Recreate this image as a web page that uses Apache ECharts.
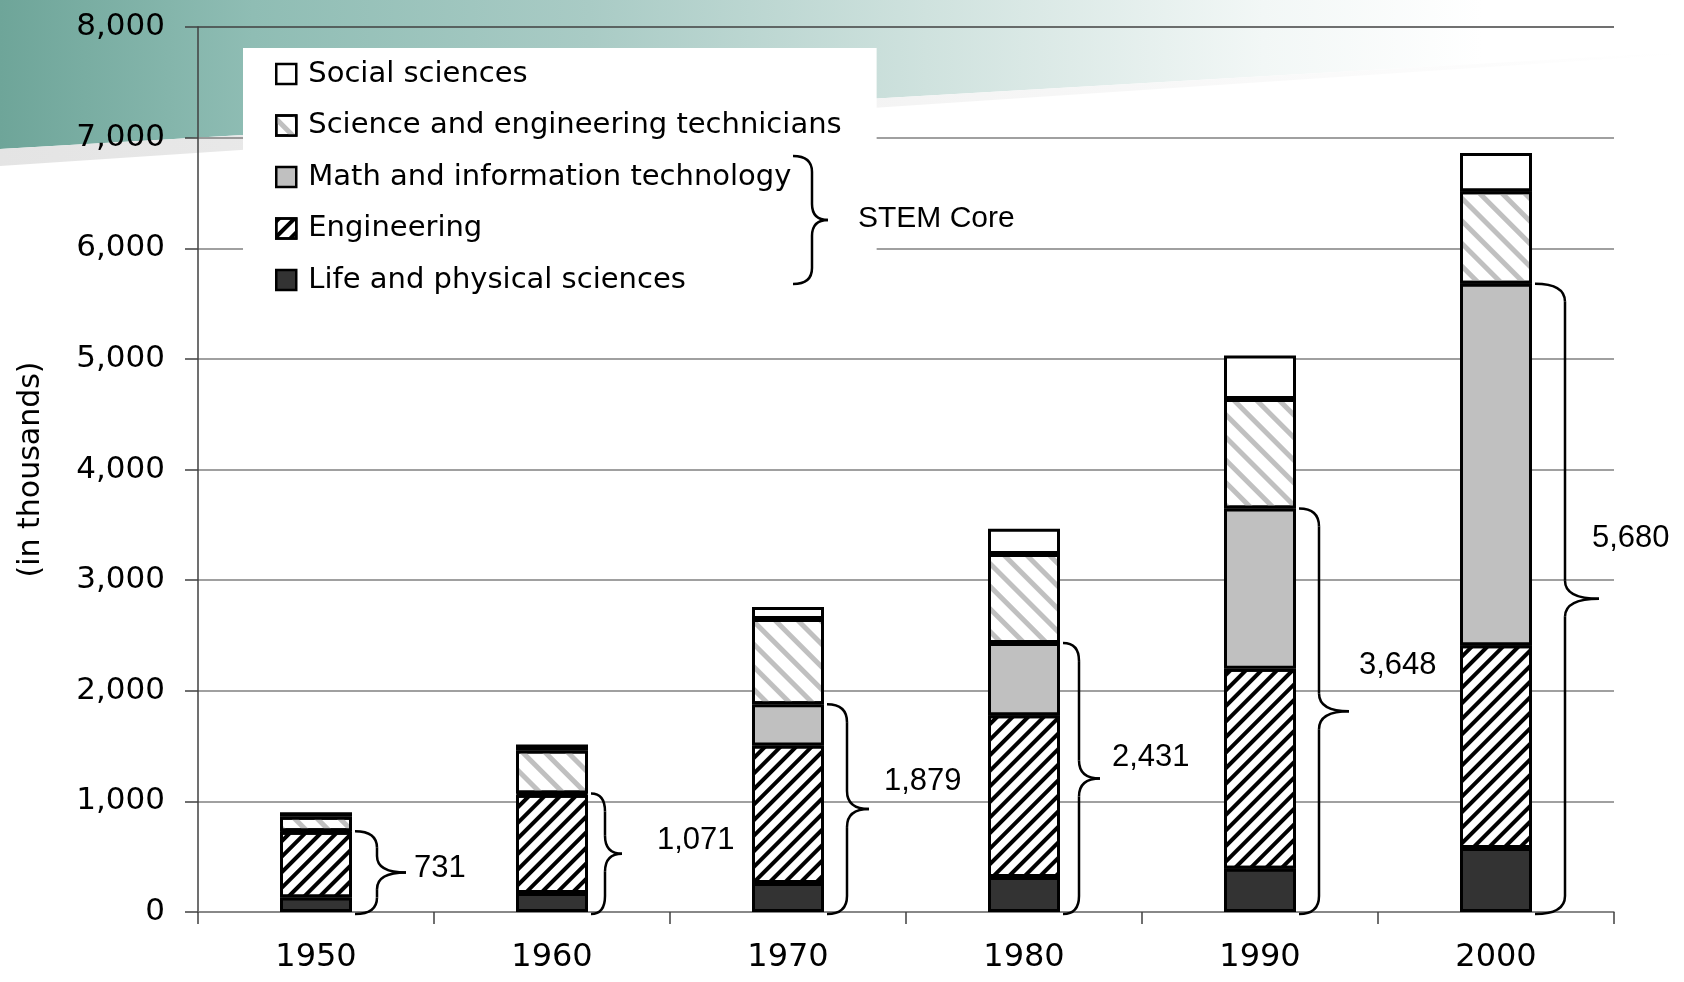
<!DOCTYPE html>
<html>
<head>
<meta charset="utf-8">
<title>STEM workforce 1950-2000</title>
<script src="https://cdn.jsdelivr.net/npm/echarts@6/dist/echarts.min.js"></script>
<style>
  html, body { margin: 0; padding: 0; background: #fff; }
  #chart { width: 1684px; height: 982px; }
</style>
</head>
<body>
<div id="chart"></div>
<script>
// workers, in thousands
const years = ["1950", "1960", "1970", "1980", "1990", "2000"];
const lifeSci = [130, 172, 262, 316, 391, 579];
const engineering = [596, 889, 1244, 1462, 1809, 1832];
const mathIT = [5, 10, 373, 653, 1448, 3269];
const technicians = [131, 390, 770, 806, 990, 835];
const socialSci = [40, 52, 109, 228, 392, 347];
const stemCore = [731, 1071, 1879, 2431, 3648, 5680];
const yMin = 0, yMax = 8000, yStep = 1000;

// look of the braces / labels beside each bar
const braceInset = [22, 14, 20, 16, 20, 30];
const braceTip = [29, 17, 22, 21, 30, 34];
const braceLabelOffset = [[8, -4], [35, -13], [15, -28], [12, -21], [10, -46], [-7, -60]];

const barWidth = 72;
const tickFont = "DejaVu Sans";
const arial = "Liberation Sans";

// curly brace "}" as line / curve pieces
function braceParts(x0, xv, xt, yT, yB, r, extra) {
  const yM = (yT + yB) / 2;
  const st = { fill: null, stroke: "#000", lineWidth: 2.5 };
  const curve = (a, b, c, d, e, f) => Object.assign({
    type: "bezierCurve",
    shape: { x1: a, y1: b, cpx1: c, cpy1: d, x2: e, y2: f },
    style: st,
  }, extra);
  const line = (a, b, c, d) => Object.assign({
    type: "line",
    shape: { x1: a, y1: b, x2: c, y2: d },
    style: st,
  }, extra);
  return [
    curve(x0, yT, xv, yT, xv, yT + r),
    line(xv, yT + r, xv, yM - r),
    curve(xv, yM - r, xv, yM, xt, yM),
    curve(xt, yM, xv, yM, xv, yM + r),
    line(xv, yM + r, xv, yB - r),
    curve(xv, yB - r, xv, yB, x0, yB),
  ];
}

let myChart = echarts.init(document.getElementById("chart"));

function barSeries(name, data, itemStyle) {
  return {
    name: name,
    type: "bar",
    stack: "total",
    barWidth: barWidth,
    data: data,
    itemStyle: Object.assign({ borderColor: "#000", borderWidth: 3 }, itemStyle),
    emphasis: { disabled: true },
  };
}

myChart.setOption({
  animation: false,
  backgroundColor: "#fff",
  textStyle: { fontFamily: tickFont, color: "#000" },
  graphic: [
    {
      type: "polygon",
      z: -100,
      silent: true,
      shape: { points: [[0, 0], [1684, 0], [1684, 52], [0, 149]] },
      style: {
        fill: {
          type: "linear", x: 0, y: 0, x2: 1, y2: 0,
          colorStops: [
            { offset: 0, color: "#6ea599" },
            { offset: 0.15, color: "#8fbdb4" },
            { offset: 0.35, color: "#a9cbc5" },
            { offset: 0.55, color: "#cfe2de" },
            { offset: 0.75, color: "#f2f7f6" },
            { offset: 0.88, color: "#ffffff" },
          ],
        },
      },
    },
    {
      type: "polygon",
      z: -100,
      silent: true,
      shape: { points: [[0, 149], [1684, 52], [1684, 54], [0, 166]] },
      style: {
        fill: {
          type: "linear", x: 0, y: 0, x2: 1, y2: 0,
          colorStops: [
            { offset: 0, color: "#e4e4e4" },
            { offset: 0.5, color: "#f3f3f3" },
            { offset: 1, color: "#ffffff" },
          ],
        },
      },
    },
  ].concat(braceParts(793, 812, 828, 156, 284, 16, { z: 100, silent: true }), [
    {
      type: "text",
      z: 100,
      silent: true,
      x: 858,
      y: 219,
      style: {
        text: "STEM Core",
        font: "30px " + arial,
        fill: "#000",
        verticalAlign: "middle",
      },
    },
  ]),
  legend: {
    data: ["Social sciences", "Science and engineering technicians", "Math and information technology", "Engineering", "Life and physical sciences"],
    orient: "vertical",
    left: 243,
    top: 48,
    padding: [11, 35, 15, 32],
    backgroundColor: "#fff",
    itemWidth: 20,
    itemHeight: 20,
    itemGap: 21.5,
    icon: "rect",
    selectedMode: false,
    itemStyle: { borderColor: "#000", borderWidth: 2.5 },
    textStyle: {
      fontFamily: tickFont,
      fontSize: 29,
      lineHeight: 30,
      color: "#000",
      padding: [0, 0, 0, 7],
    },
  },
  grid: {
    left: 198,
    right: 70,
    top: 27,
    bottom: 70,
    outerBoundsMode: "none",
  },
  xAxis: {
    type: "category",
    data: years,
    axisLine: { lineStyle: { color: "#808080", width: 1.5 } },
    axisTick: { show: true, length: 12, lineStyle: { color: "#404040", width: 1.5 } },
    axisLabel: { fontFamily: tickFont, fontSize: 32, color: "#000", margin: 30 },
  },
  yAxis: {
    type: "value",
    min: yMin,
    max: yMax,
    interval: yStep,
    name: "(in thousands)",
    nameLocation: "middle",
    nameGap: 152,
    nameRotate: 90,
    nameTextStyle: { fontFamily: tickFont, fontSize: 30, color: "#000" },
    axisLine: { show: true, lineStyle: { color: "#404040", width: 1.5 } },
    axisTick: { show: true, length: 13, lineStyle: { color: "#404040", width: 1.5 } },
    axisLabel: {
      fontFamily: tickFont,
      fontSize: 31,
      color: "#000",
      margin: 33,
      formatter: (v) => v.toLocaleString("en-US"),
    },
    splitLine: {
      lineStyle: {
        color: ["#808080", "#808080", "#808080", "#808080", "#808080", "#808080", "#808080", "#808080", "#404040"],
        width: 1.5,
      },
    },
  },
  series: [
    barSeries("Life and physical sciences", lifeSci, { color: "#333333" }),
    barSeries("Engineering", engineering, {
      color: "#ffffff",
      decal: {
        symbol: "rect",
        symbolSize: 1,
        dashArrayX: [1, 0],
        dashArrayY: [4, 7],
        rotation: -Math.PI / 4,
        color: "#000000",
      },
    }),
    barSeries("Math and information technology", mathIT, { color: "#c0c0c0" }),
    barSeries("Science and engineering technicians", technicians, {
      color: "#ffffff",
      decal: {
        symbol: "rect",
        symbolSize: 1,
        dashArrayX: [1, 0],
        dashArrayY: [5, 11],
        rotation: Math.PI / 4,
        color: "#c0c0c0",
      },
    }),
    barSeries("Social sciences", socialSci, { color: "#ffffff" }),
    {
      name: "STEM Core total",
      type: "custom",
      silent: true,
      z: 10,
      data: stemCore.map((v, i) => [i, v]),
      encode: { x: 0, y: 1 },
      renderItem: function (params, api) {
        const i = api.value(0);
        const top = api.coord([i, api.value(1)]);
        const base = api.coord([i, 0]);
        const x0 = top[0] + barWidth / 2 + 3;
        const xv = x0 + braceInset[i];
        const xt = xv + braceTip[i];
        const yT = top[1];
        const yB = base[1] + 2;
        const yM = (yT + yB) / 2;
        const r = Math.min(18, (yB - yT) / 5);
        return {
          type: "group",
          children: braceParts(x0, xv, xt, yT, yB, r, {}).concat([
            {
              type: "text",
              x: xt + braceLabelOffset[i][0],
              y: yM + braceLabelOffset[i][1],
              style: {
                text: api.value(1).toLocaleString("en-US"),
                font: "31px " + arial,
                fill: "#000",
                verticalAlign: "middle",
                align: "left",
              },
            },
          ]),
        };
      },
    },
  ],
});
window.onresize = function () {
  myChart.resize();
};
</script>
</body>
</html>
